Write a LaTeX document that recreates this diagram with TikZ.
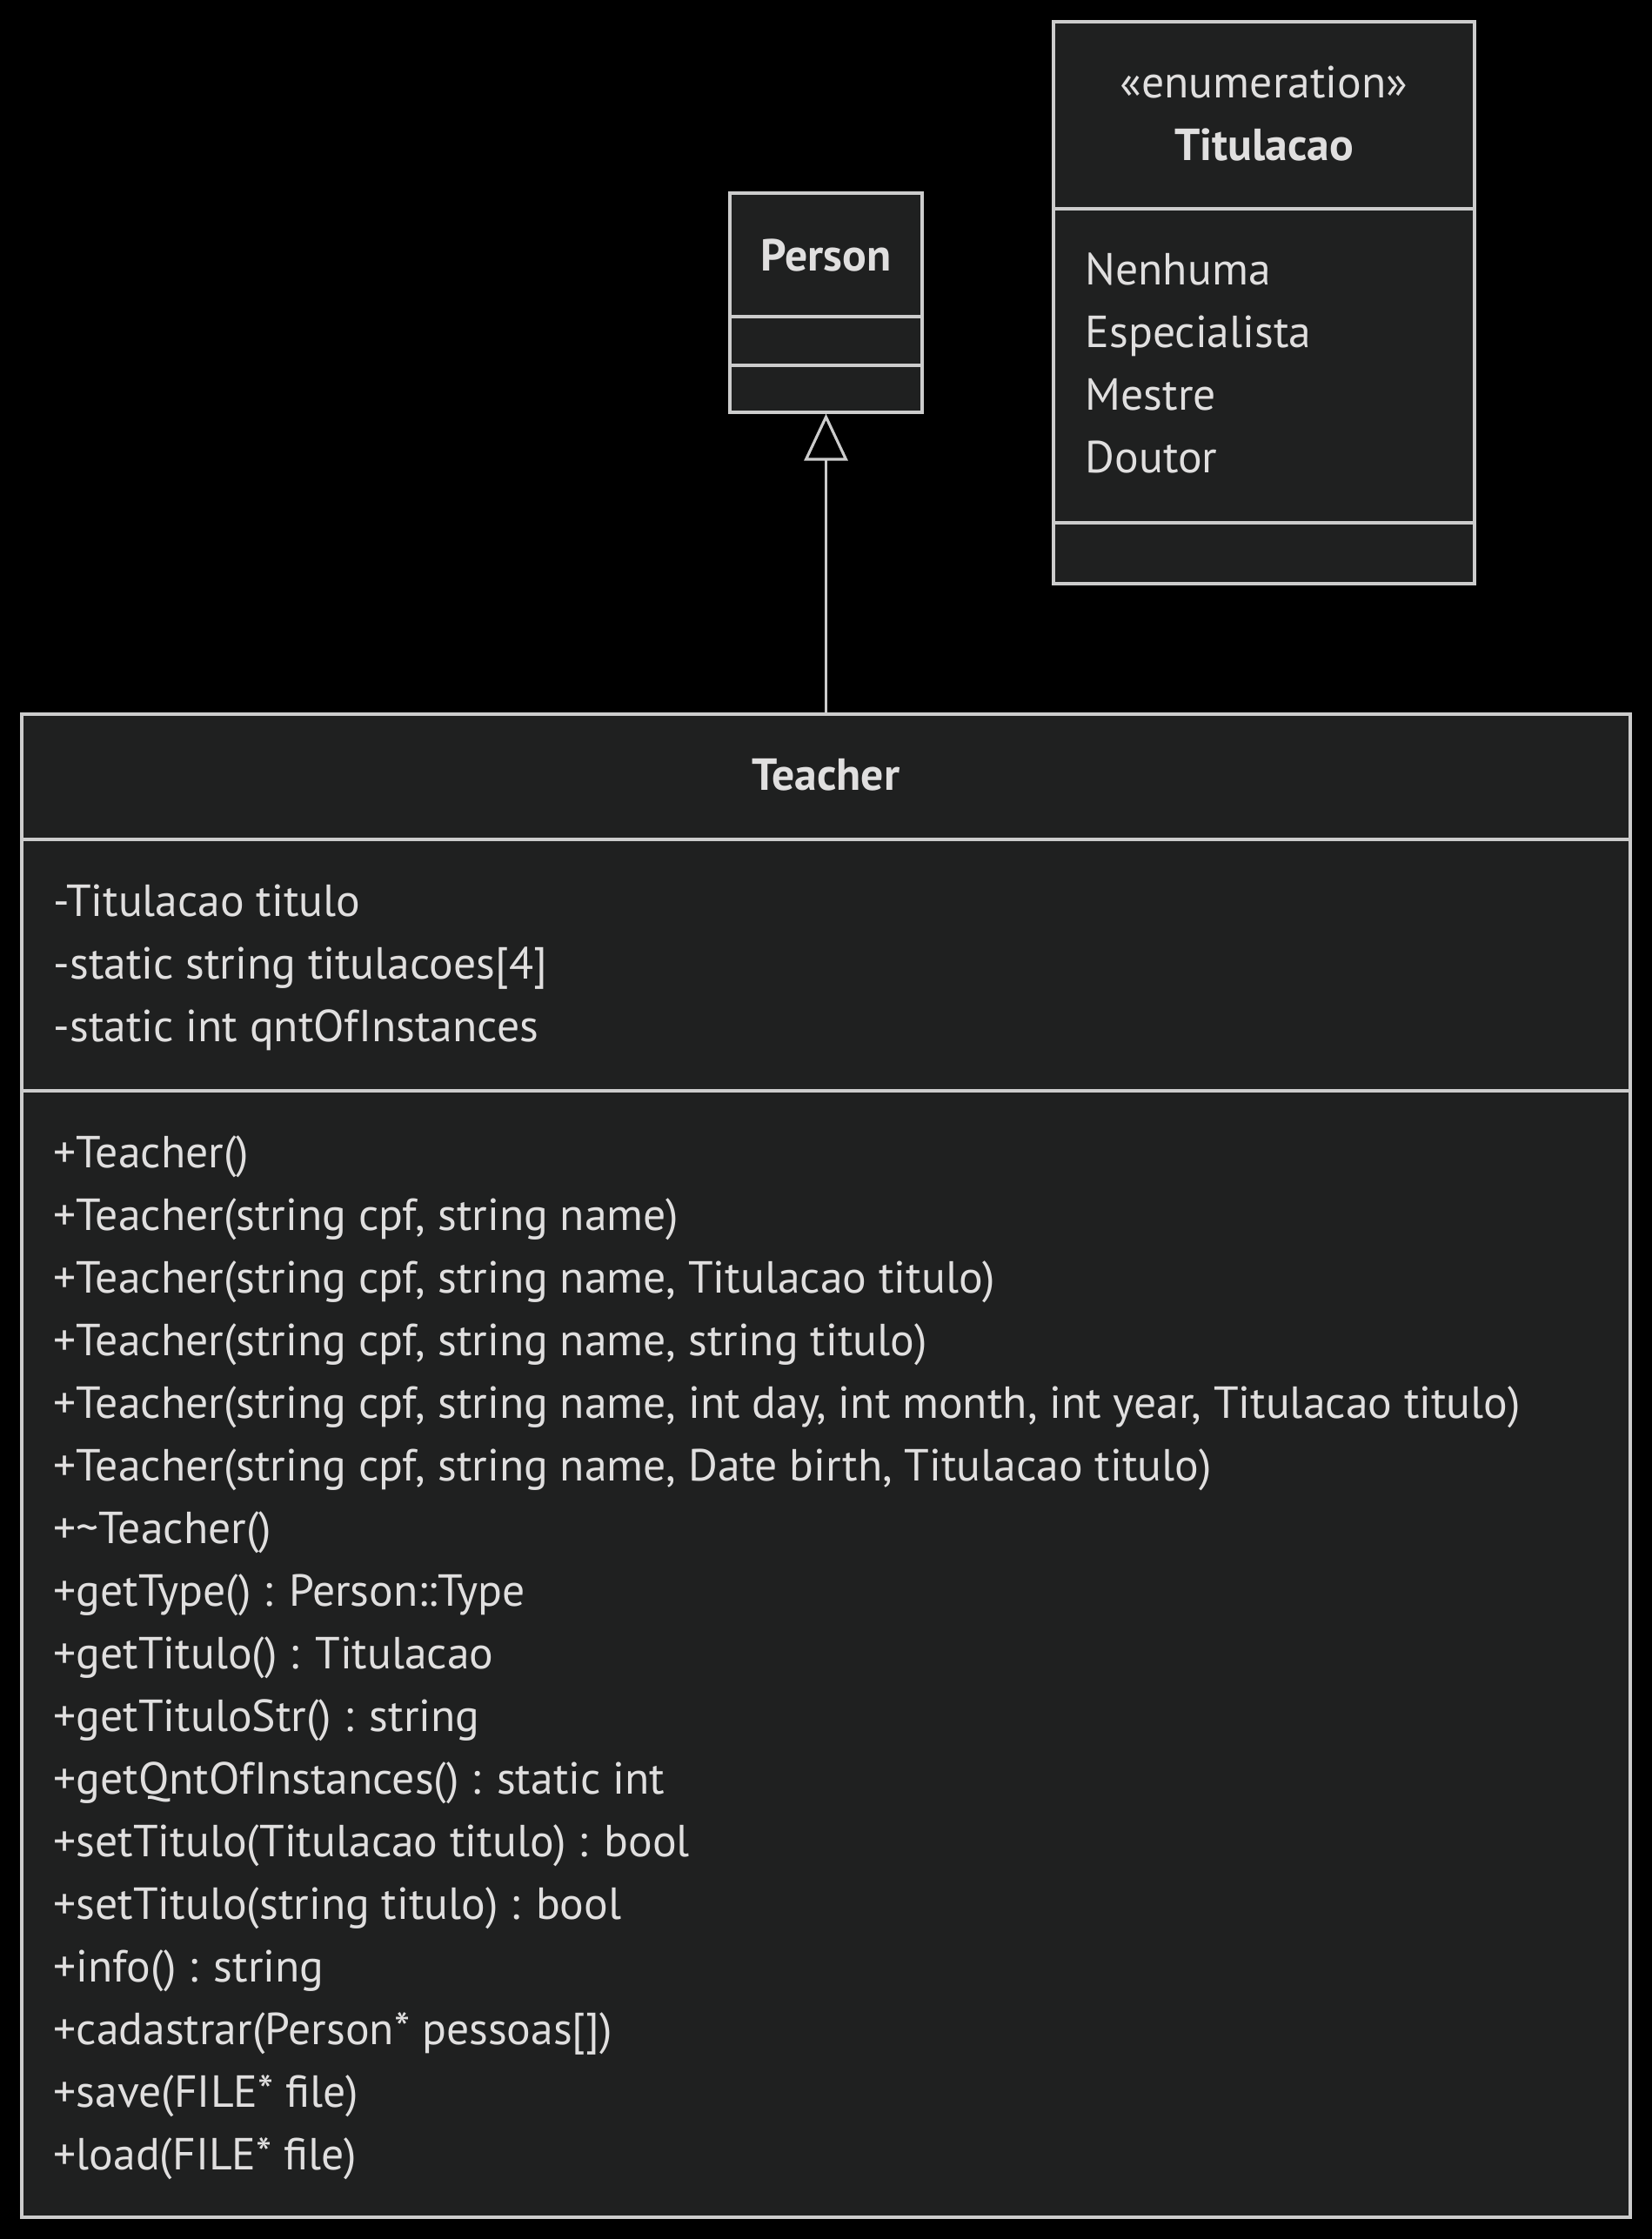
\documentclass[tikz,border=0pt]{standalone}
\usepackage{fontspec}
\setmainfont{PT Sans}
\usepackage{tikz}
\usetikzlibrary{arrows.meta}
\definecolor{boxfill}{HTML}{1F2020}
\definecolor{boxline}{HTML}{CCCCCC}
\definecolor{boxtext}{HTML}{E0DFDF}

\begin{document}
\begin{tikzpicture}[
        classbox/.style={draw=boxline, fill=boxfill, line width=0.9pt, inner sep=0pt},
        classline/.style={draw=boxline, line width=0.9pt},
        member/.style={text=boxtext, inner sep=0pt, anchor=base west, font=\fontsize{14.7}{17}\selectfont},
        classname/.style={text=boxtext, inner sep=0pt, anchor=base, font=\fontsize{14.7}{17}\selectfont\bfseries},
        stereo/.style={text=boxtext, inner sep=0pt, anchor=base, font=\fontsize{14.7}{17}\selectfont}
    ]
        \fill[black] (0,0) rectangle (18.99,-25.74);
        \useasboundingbox (0,0) rectangle (18.99,-25.74);

        \node[classbox, minimum width=2.21cm, minimum height=2.52cm] (person) at (9.495,-3.48) {};
        \node[classname] (personname) at (9.495,-3.11) {Person};
        \draw[classline] (person.west |- 0,-3.64) -- (person.east |- 0,-3.64);
        \draw[classline] (person.west |- 0,-4.20) -- (person.east |- 0,-4.20);

        \node[classbox, minimum width=4.84cm, minimum height=6.46cm] (titulacao) at (14.53,-3.48) {};
        \node[stereo] (enumstereo) at (14.53,-1.12) {«enumeration»};
        \node[classname] (enumname) at (14.53,-1.84) {Titulacao};
        \draw[classline] (titulacao.west |- 0,-2.40) -- (titulacao.east |- 0,-2.40);
        \draw[classline] (titulacao.west |- 0,-6.01) -- (titulacao.east |- 0,-6.01);
        \node[member] (nenhuma) at (12.47,-3.27) {Nenhuma};
        \node[member] (especialista) at (12.47,-3.99) {Especialista};
        \node[member] (mestre) at (12.47,-4.71) {Mestre};
        \node[member] (doutor) at (12.47,-5.43) {Doutor};

        \node[classbox, minimum width=18.49cm, minimum height=17.28cm] (teacher) at (9.495,-16.85) {};
        \node[classname] (teachername) at (9.495,-9.08) {Teacher};
        \draw[classline] (teacher.west |- 0,-9.65) -- (teacher.east |- 0,-9.65);
        \draw[classline] (teacher.west |- 0,-12.54) -- (teacher.east |- 0,-12.54);

        \node[member] (attr1) at (0.61,-10.53) {-Titulacao titulo};
        \node[member] (attr2) at (0.61,-11.25) {-static string titulacoes[4]};
        \node[member] (attr3) at (0.61,-11.97) {-static int qntOfInstances};

        \node[member] (op1) at (0.61,-13.42) {+Teacher()};
        \node[member] (op2) at (0.61,-14.14) {+Teacher(string cpf, string name)};
        \node[member] (op3) at (0.61,-14.86) {+Teacher(string cpf, string name, Titulacao titulo)};
        \node[member] (op4) at (0.61,-15.58) {+Teacher(string cpf, string name, string titulo)};
        \node[member] (op5) at (0.61,-16.30) {+Teacher(string cpf, string name, int day, int month, int year, Titulacao titulo)};
        \node[member] (op6) at (0.61,-17.02) {+Teacher(string cpf, string name, Date birth, Titulacao titulo)};
        \node[member] (op7) at (0.61,-17.74) {+\textasciitilde Teacher()};
        \node[member] (op8) at (0.61,-18.46) {+getType() : Person::Type};
        \node[member] (op9) at (0.61,-19.18) {+getTitulo() : Titulacao};
        \node[member] (op10) at (0.61,-19.90) {+getTituloStr() : string};
        \node[member] (op11) at (0.61,-20.62) {+getQntOfInstances() : static int};
        \node[member] (op12) at (0.61,-21.34) {+setTitulo(Titulacao titulo) : bool};
        \node[member] (op13) at (0.61,-22.06) {+setTitulo(string titulo) : bool};
        \node[member] (op14) at (0.61,-22.78) {+info() : string};
        \node[member] (op15) at (0.61,-23.50) {+cadastrar(Person* pessoas[])};
        \node[member] (op16) at (0.61,-24.22) {+save(FILE* file)};
        \node[member] (op17) at (0.61,-24.94) {+load(FILE* file)};

        \draw[classline, -{Triangle[open, length=0.54cm, width=0.5cm]}] (teacher.north) -- (person.south);
    \end{tikzpicture}
\end{document}
